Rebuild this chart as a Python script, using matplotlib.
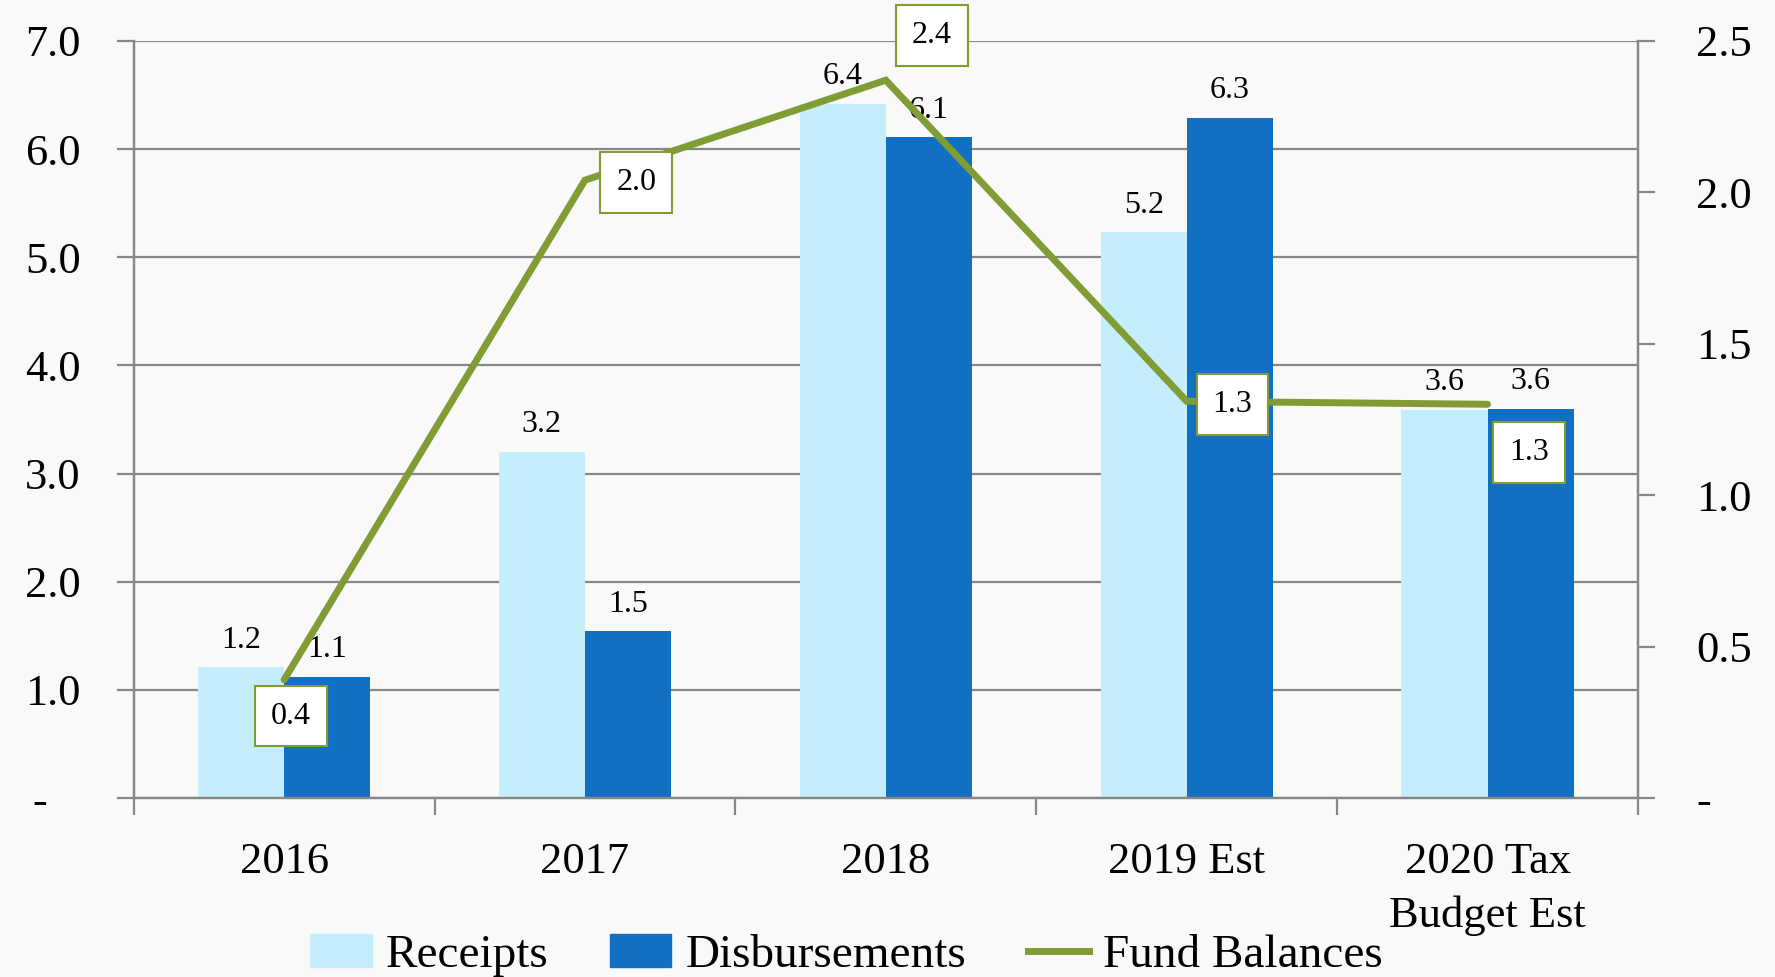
import numpy as np
import matplotlib.pyplot as plt
from matplotlib.ticker import FuncFormatter, FixedLocator
from matplotlib.lines import Line2D
from matplotlib.patches import Patch

plt.rcParams['font.family'] = ['Liberation Serif', 'DejaVu Serif']

# fund data (millions)
years = ['2016', '2017', '2018', '2019 Est', '2020 Tax\nBudget Est']
receipts = [1.21, 3.20, 6.42, 5.23, 3.59]
disbursements = [1.12, 1.54, 6.11, 6.29, 3.60]
fund_balances = [0.39, 2.04, 2.37, 1.31, 1.30]

light_blue = '#c5eefc'
dark_blue = '#1170c4'
olive = '#7f9c35'
grid_grey = '#878787'

fig = plt.figure(figsize=(17.75, 9.77), dpi=100, facecolor='#f9f9f9')
ax = fig.add_axes([0.0753, 0.1832, 0.8475, 0.775])
ax.set_facecolor('#f9f9f9')
ax2 = ax.twinx()

x = np.arange(len(years))
w = 0.286
b1 = ax.bar(x - w/2, receipts, w, color=light_blue, zorder=2)
b2 = ax.bar(x + w/2, disbursements, w, color=dark_blue, zorder=2)

for rect, v in zip(list(b1) + list(b2), receipts + disbursements):
    ax.annotate(f'{v:.1f}', (rect.get_x() + rect.get_width()/2, v),
                xytext=(0, 9), textcoords='offset points',
                ha='center', va='bottom', fontsize=23, zorder=5)

ax.set_xlim(-0.5, len(years) - 0.5)
ax.set_ylim(0, 7)
ax.yaxis.set_major_locator(FixedLocator(np.arange(0, 7.01, 1)))
ax.yaxis.set_major_formatter(FuncFormatter(lambda v, p: '-   ' if v == 0 else f'{v:.1f}'))
ax.grid(axis='y', color=grid_grey, linewidth=1.6, zorder=0)
ax.set_axisbelow(True)

ax.set_xticks(x)
ax.set_xticklabels(years, fontsize=32, linespacing=1.4)
ax.set_xticks(np.arange(-0.5, len(years)), minor=True)
ax.tick_params(axis='x', which='major', length=0, pad=32)
ax.tick_params(axis='x', which='minor', length=12, width=1.6, color=grid_grey, direction='out')
ax.tick_params(axis='y', labelsize=32, length=12, width=1.6, color=grid_grey, pad=26)

# fund balance line on the secondary axis
ax2.plot(x, fund_balances, color=olive, linewidth=5, solid_capstyle='round',
         solid_joinstyle='miter', zorder=4)
ax2.set_ylim(0, 2.5)
ax2.yaxis.set_major_locator(FixedLocator(np.arange(0, 2.51, 0.5)))
ax2.yaxis.set_major_formatter(FuncFormatter(lambda v, p: '-' if v == 0 else f'{v:.1f}'))
ax2.tick_params(axis='y', labelsize=32, length=12, width=1.6, color=grid_grey, pad=30)

offsets = [(5, -26), (37, -2), (33, 32), (33, -2), (30, -35)]
for xi, v, off in zip(x, fund_balances, offsets):
    ax2.annotate(f'{v:.1f}', (xi, v), xytext=off, textcoords='offset points',
                 ha='center', va='center', fontsize=23, zorder=6,
                 bbox=dict(boxstyle='square,pad=0.5', fc='white', ec=olive, lw=1.5))

for a in (ax, ax2):
    a.spines['top'].set_visible(False)
    for s in ('left', 'right', 'bottom'):
        a.spines[s].set_color(grid_grey)
        a.spines[s].set_linewidth(1.6)
ax2.set_zorder(ax.get_zorder() + 1)
ax2.patch.set_visible(False)

handles = [Patch(color=light_blue), Patch(color=dark_blue),
           Line2D([], [], color=olive, linewidth=5)]
fig.legend(handles, ['Receipts', 'Disbursements', 'Fund Balances'],
           loc='center', bbox_to_anchor=(0.477, 0.022), ncol=3, frameon=False,
           fontsize=34, handlelength=1.3, handletextpad=0.3, columnspacing=1.3)

fig.savefig('out.png', dpi=100, facecolor=fig.get_facecolor())
